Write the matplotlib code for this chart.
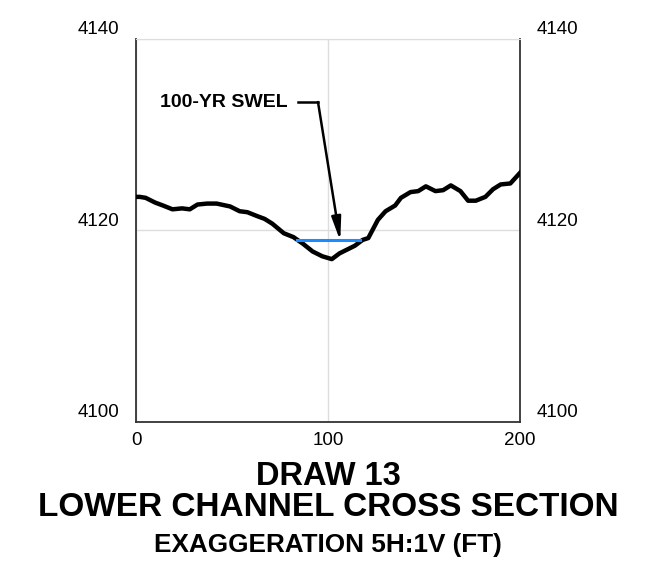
import numpy as np
import matplotlib
matplotlib.use('Agg')
import matplotlib.pyplot as plt
from matplotlib.transforms import ScaledTranslation

plt.rcParams['font.family'] = ['Liberation Sans', 'DejaVu Sans']

# ground profile (station ft, elevation ft)
station = [0, 2, 5, 10, 14, 19, 24, 28, 32, 37, 42, 49, 54, 58, 63, 67, 71,
           77, 82, 87, 92, 97, 102, 106, 110, 114, 118, 121, 126, 130, 135,
           138, 143, 147, 151, 156, 160, 164, 169, 173, 177, 182, 186, 190,
           195, 200]
elev = [4123.5, 4123.5, 4123.4, 4122.9, 4122.6, 4122.2, 4122.3, 4122.2,
        4122.7, 4122.8, 4122.8, 4122.5, 4122.0, 4121.9, 4121.5, 4121.2,
        4120.7, 4119.7, 4119.3, 4118.6, 4117.8, 4117.3, 4117.0, 4117.6,
        4118.0, 4118.4, 4119.0, 4119.2, 4121.1, 4122.0, 4122.6, 4123.4,
        4124.0, 4124.1, 4124.6, 4124.1, 4124.2, 4124.7, 4124.1, 4123.1,
        4123.1, 4123.5, 4124.3, 4124.8, 4124.9, 4126.0]

# 100-yr water surface
swel_station = [84, 116.5]
swel_elev = 4119.0

x_ticks = [0, 100, 200]
y_ticks = [4100, 4120, 4140]

fig = plt.figure(figsize=(6.54, 5.71), dpi=100)
ax = fig.add_axes([0.208, 0.261, 0.587, 0.671])

ax.plot(station, elev, color='black', lw=3.2, solid_joinstyle='round', zorder=3)
ax.plot(swel_station, [swel_elev, swel_elev], color='#1a8cff', lw=2.2, zorder=4)

# label with leader
ax.text(79.2, 4133.4, '100-YR SWEL', ha='right', va='center',
        fontsize=14, fontweight='bold')
ax.plot([84.4, 94.8], [4133.4, 4133.4], color='black', lw=1.8)
ax.annotate('', xy=(106.4, swel_elev - 0.1), xytext=(94.8, 4133.4),
            arrowprops=dict(arrowstyle='-|>,head_length=1.4,head_width=0.28',
                            lw=1.8, color='black', shrinkA=0, shrinkB=0,
                            mutation_scale=10))

ax.set_xlim(0, 200)
ax.set_ylim(4100, 4140)
ax.set_xticks(x_ticks)
ax.set_yticks(y_ticks)
ax.grid(True, color='#dddddd', lw=1)
ax.tick_params(axis='both', length=0, labelsize=13.5)
ax.tick_params(axis='x', pad=7)
ax.tick_params(axis='y', pad=12)
for s in ['left', 'right', 'bottom']:
    ax.spines[s].set_color('#333333')
    ax.spines[s].set_linewidth(1.3)
ax.spines['top'].set_color('#dddddd')

ax2 = ax.twinx()
ax2.set_ylim(4100, 4140)
ax2.set_yticks(y_ticks)
ax2.tick_params(axis='y', length=0, labelsize=13.5, pad=12)
for s in ['left', 'right', 'bottom', 'top']:
    ax2.spines[s].set_visible(False)

# y labels sit just above their grid line
off = ScaledTranslation(0, 11 / 100, fig.dpi_scale_trans)
for lab in ax.get_yticklabels() + ax2.get_yticklabels():
    lab.set_transform(lab.get_transform() + off)

fig.text(0.502, 0.1506, 'DRAW 13', ha='center', va='baseline',
         fontsize=23.5, fontweight='bold')
fig.text(0.502, 0.0963, 'LOWER CHANNEL CROSS SECTION', ha='center',
         va='baseline', fontsize=24.0, fontweight='bold')
fig.text(0.502, 0.0333, 'EXAGGERATION 5H:1V (FT)', ha='center',
         va='baseline', fontsize=18.8, fontweight='bold')

fig.savefig('out.png', dpi=100)
